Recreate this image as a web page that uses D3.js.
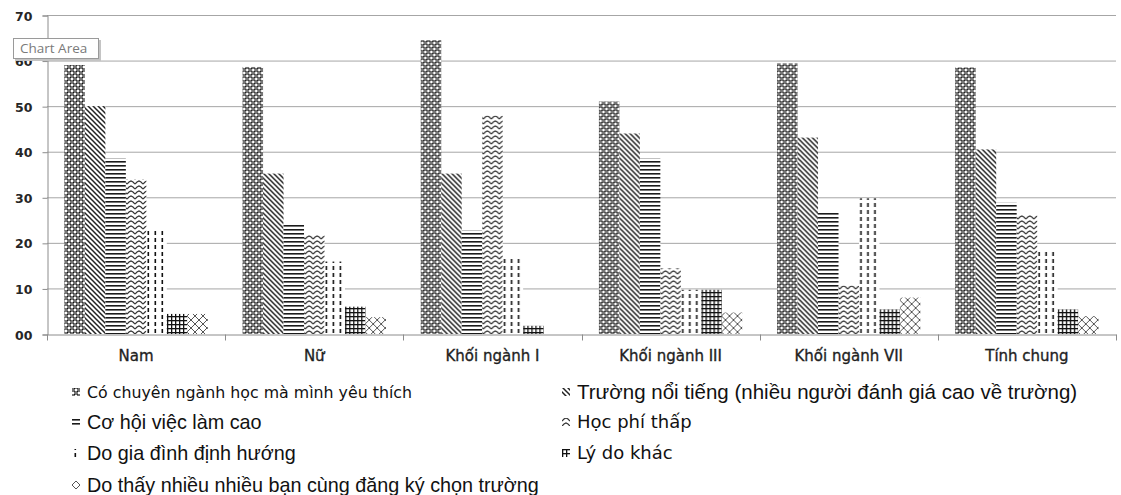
<!DOCTYPE html>
<html>
<head>
<meta charset="utf-8">
<script src="https://cdn.jsdelivr.net/npm/d3@7"></script>
<style>
  html, body { margin: 0; padding: 0; background: #fff; }
  svg { display: block; }
</style>
</head>
<body>
<svg id="chart" width="1121" height="495"></svg>
<script>
// Categories (groups along the x axis)
const categories = ["Nam", "Nữ", "Khối ngành I", "Khối ngành III", "Khối ngành VII", "Tính chung"];

// Series names (reasons for choosing the school)
const seriesNames = [
  "Có chuyên ngành học mà mình yêu thích",
  "Trường nổi tiếng (nhiều người đánh giá cao về trường)",
  "Cơ hội việc làm cao",
  "Học phí thấp",
  "Do gia đình định hướng",
  "Lý do khác",
  "Do thấy nhiều nhiều bạn cùng đăng ký chọn trường"
];

// Percentages per series, one value per category
const chuyenNganh = [59.0, 58.6, 64.5, 51.0, 59.4, 58.5];
const noiTieng    = [50.0, 35.2, 35.2, 44.0, 43.1, 40.5];
const viecLam     = [38.5, 24.3, 22.7, 38.5, 26.7, 28.8];
const hocPhi      = [34.0, 21.7, 47.9, 14.4, 10.6, 26.1];
const giaDinh     = [22.7, 15.9, 16.7, 9.7, 29.8, 18.1];
const lyDoKhac    = [4.4, 6.0, 1.8, 9.7, 5.4, 5.4];
const banBe       = [4.4, 3.7, 0, 4.7, 8.0, 3.9];

const seriesValues = [chuyenNganh, noiTieng, viecLam, hocPhi, giaDinh, lyDoKhac, banBe];

// Y axis tick values and their labels
const yTicks = [0, 10, 20, 30, 40, 50, 60, 70];
const yTickLabels = ["00", "10", "20", "30", "40", "50", "60", "70"];

const svg = d3.select("#chart");
const plot = { left: 47, right: 1116, top: 15, bottom: 334 };

const x0 = d3.scaleBand().domain(categories).range([plot.left, plot.right]).padding(0);
const x1 = d3.scaleBand().domain(d3.range(seriesNames.length))
  .range([0, x0.bandwidth()]).paddingInner(0).paddingOuter(0.85);
const y = d3.scaleLinear().domain([0, 70]).range([plot.bottom, plot.top]);

// ---------- fill patterns ----------
const defs = svg.append("defs");
function pat(id, w, h, build) {
  const p = defs.append("pattern").attr("id", id)
    .attr("patternUnits", "userSpaceOnUse").attr("width", w).attr("height", h);
  p.append("rect").attr("width", w).attr("height", h).attr("fill", "#fff");
  build(p);
}
// 0: dense dotted lattice (dark)
pat("p0", 6, 6, p => {
  p.append("rect").attr("width", 6).attr("height", 6).attr("fill", "#767676");
  p.append("rect").attr("x", 0).attr("y", 0).attr("width", 2).attr("height", 2).attr("fill", "#fff");
  p.append("rect").attr("x", 3).attr("y", 3).attr("width", 2).attr("height", 2).attr("fill", "#fff");
  p.append("rect").attr("x", 2).attr("y", 2).attr("width", 1).attr("height", 1).attr("fill", "#111");
  p.append("rect").attr("x", 5).attr("y", 5).attr("width", 1).attr("height", 1).attr("fill", "#111");
  p.append("rect").attr("x", 5).attr("y", 2).attr("width", 1).attr("height", 1).attr("fill", "#333");
  p.append("rect").attr("x", 2).attr("y", 5).attr("width", 1).attr("height", 1).attr("fill", "#333");
});
// 1: wide downward diagonal
pat("p1", 5, 5, p => {
  p.append("path").attr("d", "M-1,-1 L6,6 M-1,4 L1,6 M4,-1 L6,1")
    .attr("stroke", "#222").attr("stroke-width", 1.5);
});
// 2: horizontal lines
pat("p2", 4, 4, p => {
  p.append("rect").attr("x", 0).attr("y", 1).attr("width", 4).attr("height", 1.6).attr("fill", "#1a1a1a");
});
// 3: wave
pat("p3", 8, 5, p => {
  p.append("path").attr("d", "M0,4 L2,2 L4,1 L6,2 L8,4")
    .attr("fill", "none").attr("stroke", "#333").attr("stroke-width", 1.2);
});
// 4: dashed vertical
pat("p4", 7, 7, p => {
  p.append("rect").attr("x", 2.5).attr("y", 0).attr("width", 1.6).attr("height", 4).attr("fill", "#111");
});
// 5: small grid
pat("p5", 4, 4, p => {
  p.append("rect").attr("x", 0).attr("y", 0).attr("width", 1.3).attr("height", 4).attr("fill", "#111");
  p.append("rect").attr("x", 0).attr("y", 0).attr("width", 4).attr("height", 1.3).attr("fill", "#111");
});
// 6: large diamond lattice
pat("p6", 8, 8, p => {
  p.append("path").attr("d", "M0,0 L8,8 M8,0 L0,8")
    .attr("stroke", "#555").attr("stroke-width", 1);
});

// ---------- gridlines ----------
svg.append("g").selectAll("line").data(yTicks.filter(t => t > 0)).join("line")
  .attr("x1", plot.left).attr("x2", plot.right)
  .attr("y1", d => y(d) + 0.5).attr("y2", d => y(d) + 0.5)
  .attr("stroke", "#a6a6a6").attr("stroke-width", 1);

// ---------- bars ----------
const rows = categories.map((c, ci) => ({ cat: c, vals: seriesValues.map((s, si) => ({ si, v: s[ci] })) }));
svg.append("g").selectAll("g").data(rows).join("g")
  .attr("transform", d => `translate(${x0(d.cat)},0)`)
  .selectAll("rect").data(d => d.vals.filter(e => e.v > 0)).join("rect")
  .attr("x", d => x1(d.si))
  .attr("width", x1.bandwidth())
  .attr("y", d => y(d.v))
  .attr("height", d => y(0) - y(d.v))
  .attr("fill", d => `url(#p${d.si})`);

// ---------- axes ----------
const yAxis = d3.axisLeft(y).tickValues(yTicks).tickSize(5).tickPadding(10)
  .tickFormat((d, i) => yTickLabels[i]);
const gy = svg.append("g").attr("transform", `translate(${plot.left + 0.5},0.5)`).call(yAxis);
gy.select(".domain").attr("stroke", "#8c8c8c");
gy.selectAll(".tick line").attr("stroke", "#8c8c8c");
gy.selectAll(".tick text").attr("font-family", "DejaVu Sans").attr("font-size", 12.5)
  .attr("font-weight", "bold").attr("fill", "#262626").attr("dy", "0.36em");

const xAxis = d3.axisBottom(x0).tickSize(0).tickPadding(16);
const gx = svg.append("g").attr("transform", `translate(0,${plot.bottom + 0.5})`).call(xAxis);
gx.select(".domain").attr("stroke", "#8c8c8c");
gx.selectAll(".tick text").attr("font-family", "DejaVu Sans").attr("font-size", 15)
  .attr("fill", "#1f1f1f").attr("stroke", "#1f1f1f").attr("stroke-width", 0.35);
// boundary ticks between categories
const bounds = categories.map(c => x0(c)).concat([plot.right]);
gx.append("g").selectAll("line").data(bounds).join("line")
  .attr("x1", d => Math.round(d) + 0.5).attr("x2", d => Math.round(d) + 0.5)
  .attr("y1", 0).attr("y2", 6).attr("stroke", "#8c8c8c");

// ---------- legend ----------
const legendCols = [72, 562];
const legendRows = [392, 422, 453, 485];
const legendFont = [
  { f: "DejaVu Sans", s: 15.8 },
  { f: "Liberation Sans", s: 20.5 },
  { f: "Liberation Sans", s: 19.8 },
  { f: "DejaVu Sans", s: 18 },
  { f: "Liberation Sans", s: 19.8 },
  { f: "DejaVu Sans", s: 18 },
  { f: "Liberation Sans", s: 19.8 }
];
const lg = svg.append("g").selectAll("g").data(seriesNames).join("g")
  .attr("transform", (d, i) => `translate(${legendCols[i % 2]},${legendRows[Math.floor(i / 2)]})`);
lg.append("rect").attr("x", 0).attr("y", -4).attr("width", 8).attr("height", 8)
  .attr("fill", (d, i) => `url(#p${i})`);
lg.append("text").attr("x", 15).attr("dy", "0.36em")
  .attr("font-family", (d, i) => legendFont[i].f)
  .attr("font-size", (d, i) => legendFont[i].s)
  .attr("fill", "#111")
  .text(d => d);

// ---------- "Chart Area" hover label ----------
const tip = svg.append("g").attr("transform", "translate(13,38)");
tip.append("rect").attr("x", 2).attr("y", 2).attr("width", 86).attr("height", 21).attr("fill", "#c4c4c4");
tip.append("rect").attr("x", 0.5).attr("y", 0.5).attr("width", 85).attr("height", 20)
  .attr("fill", "#fff").attr("stroke", "#9a9a9a");
tip.append("text").attr("x", 7).attr("y", 15).attr("font-family", "Open Sans")
  .attr("font-size", 13.5).attr("fill", "#7a7a7a").text("Chart Area");
</script>
</body>
</html>
